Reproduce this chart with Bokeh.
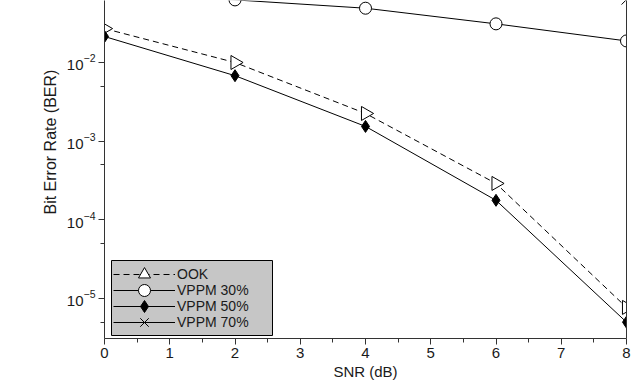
import math
from bokeh.plotting import figure
from bokeh.models import (Range1d, FixedTicker, LogTickFormatter, Legend, LegendItem,
                          Title, LogAxis, BoxAnnotation)
from bokeh.embed import file_html
from bokeh.resources import INLINE

# ---- data ----
snr = [0, 2, 4, 6, 8]
ook = [0.027, 0.0100, 0.00225, 0.00029, 7.7e-6]
vppm30 = [0.075, 0.0625, 0.049, 0.031, 0.0188]
vppm50 = [0.0214, 0.0068, 0.00154, 0.000177, 5.0e-6]
vppm70 = [0.20, 0.15, 0.11, 0.085, 0.063]

series_names = ["OOK", "VPPM 30%", "VPPM 50%", "VPPM 70%"]
x_ticks = [0, 1, 2, 3, 4, 5, 6, 7, 8]
x_minor = [0.5, 1.5, 2.5, 3.5, 4.5, 5.5, 6.5, 7.5]
y_ticks = [1e-5, 1e-4, 1e-3, 1e-2]
y_minor = [5e-6, 5e-5, 5e-4, 5e-3]

FONT = "Liberation Sans"
INK = "#1a1a1a"
AX = "#333333"

p = figure(width=641, height=389, y_axis_type="log",
           x_range=Range1d(0, 8), y_range=Range1d(3.1e-6, 0.0614),
           output_backend="svg", toolbar_location=None,
           min_border_left=104, min_border_right=15,
           min_border_top=0, min_border_bottom=51)
p.outline_line_color = None
p.grid.visible = False
p.background_fill_color = "white"
p.border_fill_color = "white"

# x axis
xa = p.xaxis[0]
xa.ticker = FixedTicker(ticks=x_ticks, minor_ticks=x_minor)
xa.axis_label = "SNR (dB)"
xa.axis_label_text_font = FONT
xa.axis_label_text_font_size = "15px"
xa.axis_label_text_font_style = "normal"
xa.axis_label_text_color = INK
xa.axis_label_standoff = 2
xa.major_label_text_font = FONT
xa.major_label_text_font_size = "15px"
xa.major_label_text_color = INK
xa.major_label_standoff = 3

# y axis
ya = p.yaxis[0]
ya.ticker = FixedTicker(ticks=y_ticks, minor_ticks=y_minor)
ya.formatter = LogTickFormatter()
ya.major_label_text_font = FONT
ya.major_label_text_font_size = "15px"
ya.major_label_text_color = INK
ya.major_label_standoff = 3

for ax in (xa, ya):
    ax.axis_line_color = AX
    ax.axis_line_width = 1
    ax.major_tick_line_color = AX
    ax.minor_tick_line_color = AX
    ax.major_tick_in = 0
    ax.major_tick_out = 6
    ax.minor_tick_in = 0
    ax.minor_tick_out = 4

# right border as a bare axis
ra = LogAxis(ticker=FixedTicker(ticks=[]), axis_line_color=AX,
             major_tick_line_color=None, minor_tick_line_color=None,
             major_label_text_alpha=0)
p.add_layout(ra, "right")

# y axis title, placed along the axis as in the reference
ytitle = Title(text="Bit Error Rate (BER)", align="left", offset=124,
               text_font=FONT, text_font_size="16px", text_font_style="normal",
               text_color=INK, standoff=10)
p.add_layout(ytitle, "left")

# series
l1 = p.line(snr, ook, line_color="black", line_width=1, line_dash="6 4")
m1 = p.scatter(snr, ook, marker="triangle", size=14, angle=-math.pi / 2,
               fill_color="white", line_color="black", line_width=1)
l2 = p.line(snr, vppm30, line_color="black", line_width=1)
m2 = p.scatter(snr, vppm30, marker="circle", size=12,
               fill_color="white", line_color="black", line_width=1)
l3 = p.line(snr, vppm50, line_color="black", line_width=1)
m3 = p.scatter(snr, vppm50, marker="diamond", size=12,
               fill_color="black", line_color="black", line_width=1)
l4 = p.line(snr, vppm70, line_color="black", line_width=1)
m4 = p.scatter(snr, vppm70, marker="x", size=14,
               line_color="black", line_width=1)

# legend background box (screen units relative to the frame)
p.add_layout(BoxAnnotation(left=7, right=168, bottom=3, top=78,
                           left_units="screen", right_units="screen",
                           bottom_units="screen", top_units="screen",
                           fill_color="#c6c6c6", fill_alpha=1,
                           line_color="black", line_width=1, line_alpha=1,
                           level="overlay"))

# one legend row each, so rows can sit close together with full-size markers
row_renderers = [[l1, m1], [l2, m2], [l3, m3], [l4, m4]]
row_bottoms = [49, 33, 17, 1]
for name, rends, yb in zip(series_names, row_renderers, row_bottoms):
    lg = Legend(items=[LegendItem(label=name, renderers=rends)], location=(9, yb))
    lg.background_fill_alpha = 0
    lg.border_line_color = None
    lg.label_text_font = FONT
    lg.label_text_font_size = "14px"
    lg.label_text_color = INK
    lg.label_standoff = 2
    lg.glyph_width = 62
    lg.glyph_height = 30
    lg.label_height = 30
    lg.padding = 0
    lg.margin = 0
    lg.spacing = 0
    p.add_layout(lg, "center")

open("out.html", "w").write(file_html(p, INLINE))
